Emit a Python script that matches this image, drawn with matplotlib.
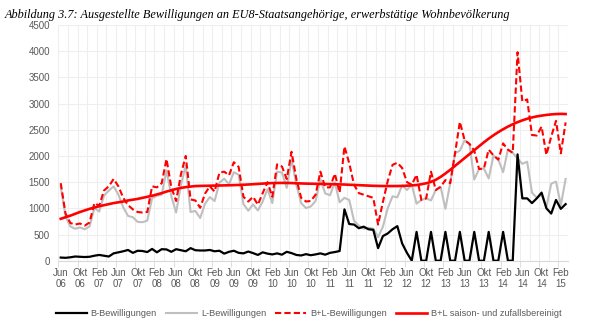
import matplotlib
matplotlib.use("Agg")
import matplotlib.pyplot as plt

# monthly values, Jun 2006 - Mar 2015
b_bew = [60, 55, 65, 80, 75, 70, 75, 95, 110, 95,
         80, 140, 160, 180, 205, 150, 190, 185, 165, 225,
         160, 220, 215, 170, 220, 200, 180, 240, 200, 195,
         195, 205, 180, 190, 135, 170, 190, 150, 140, 175,
         145, 110, 160, 135, 120, 140, 115, 170, 145, 110,
         100, 125, 105, 120, 140, 115, 150, 165, 185, 980,
         700, 690, 620, 650, 600, 590, 240, 470, 520, 600,
         660, 330, 150, 0, 550, 0, 0, 550, 0, 0,
         550, 0, 0, 550, 0, 0, 550, 0, 0, 550,
         0, 0, 550, 0, 0, 2030, 1190, 1190, 1100, 1190,
         1300, 1000, 900, 1160, 990, 1080]
l_bew = [1420, 845, 655, 610, 635, 600, 655, 1005, 940, 1245,
         1340, 1420, 1260, 1020, 855, 830, 740, 735, 765, 1195,
         1240, 1260, 1725, 1230, 920, 1450, 1820, 930, 950, 815,
         1085, 1215, 1140, 1490, 1565, 1460, 1690, 1640, 1080, 955,
         1075, 960, 1130, 1365, 1100, 1700, 1685, 1390, 1935, 1450,
         1100, 1005, 1035, 1140, 1560, 1285, 1250, 1495, 1115, 1200,
         1160, 760, 670, 610, 630, 610, 450, 650, 1000, 1230,
         1210, 1440, 1350, 1450, 1090, 1160, 1190, 1150, 1350, 1410,
         990, 1480, 2050, 2100, 2300, 2230, 1550, 1750, 1760, 1570,
         2010, 1930, 1690, 2120, 2060, 1950, 1850, 1890, 1300, 1200,
         1260, 1020, 1470, 1510, 1060, 1560]
bl_bew = [1480, 900, 720, 690, 710, 670, 730, 1100, 1050, 1340,
          1420, 1560, 1420, 1200, 1060, 980, 930, 920, 930, 1420,
          1400, 1480, 1940, 1400, 1140, 1650, 2000, 1170, 1150, 1010,
          1280, 1420, 1320, 1680, 1700, 1630, 1880, 1790, 1220, 1130,
          1220, 1070, 1290, 1500, 1220, 1840, 1800, 1560, 2080, 1560,
          1200, 1130, 1140, 1260, 1700, 1400, 1400, 1660, 1300, 2180,
          1860, 1450, 1290, 1260, 1230, 1200, 690, 1120, 1520, 1830,
          1870, 1770, 1500, 1450, 1640, 1160, 1190, 1700, 1350, 1410,
          1540, 1480, 2050, 2650, 2300, 2230, 2100, 1750, 1760, 2120,
          2010, 1930, 2240, 2120, 2060, 3980, 3040, 3080, 2400, 2390,
          2560, 2020, 2370, 2670, 2050, 2640]
bl_trend = [800, 830, 860, 895, 930, 960, 990, 1015, 1040, 1060,
            1080, 1100, 1115, 1130, 1150, 1165, 1180, 1200, 1220, 1240,
            1265, 1290, 1320, 1345, 1370, 1390, 1405, 1415, 1425, 1428,
            1430, 1432, 1434, 1436, 1438, 1440, 1443, 1446, 1450, 1455,
            1460, 1466, 1472, 1478, 1482, 1484, 1485, 1485, 1482, 1478,
            1475, 1472, 1470, 1468, 1466, 1464, 1462, 1460, 1457, 1454,
            1450, 1446, 1442, 1438, 1434, 1430, 1428, 1426, 1425, 1425,
            1426, 1428, 1432, 1438, 1445, 1460, 1478, 1505, 1545, 1600,
            1665, 1735, 1810, 1885, 1960, 2035, 2110, 2185, 2260, 2330,
            2395, 2455, 2510, 2560, 2605, 2645, 2680, 2710, 2735, 2755,
            2770, 2783, 2793, 2800, 2803, 2800]
tick_labels = ["Jun\n06", "Okt\n06", "Feb\n07", "Jun\n07", "Okt\n07", "Feb\n08",
               "Jun\n08", "Okt\n08", "Feb\n09", "Jun\n09", "Okt\n09", "Feb\n10",
               "Jun\n10", "Okt\n10", "Feb\n11", "Jun\n11", "Okt\n11", "Feb\n12",
               "Jun\n12", "Okt\n12", "Feb\n13", "Jun\n13", "Okt\n13", "Feb\n14",
               "Jun\n14", "Okt\n14", "Feb\n15"]

plt.rcParams['font.family'] = ['Liberation Sans', 'DejaVu Sans']
txt = '#595959'
n = len(bl_bew)
x = list(range(n))

fig = plt.figure(figsize=(6.05, 3.26), dpi=100)
ax = fig.add_axes([0.0964, 0.2003, 0.8425, 0.723])

# gitter
for k in range(0, n + 1, 2):
    ax.axvline(k - 0.5, color='#EEEEEE', lw=0.8, zorder=0)
for v in range(0, 4501, 500):
    ax.axhline(v, color='#EEEEEE', lw=0.8, zorder=0)

ax.plot(x, b_bew, color='black', lw=1.6, label='B-Bewilligungen', zorder=3)
ax.plot(x, l_bew, color='#BFBFBF', lw=1.5, label='L-Bewilligungen', zorder=2)
ax.plot(x, bl_bew, color='#FF0000', lw=1.5, dashes=(3, 1.5), label='B+L-Bewilligungen', zorder=4)
ax.plot(x, bl_trend, color='#FF0000', lw=1.9, label='B+L saison- und zufallsbereinigt', zorder=5)

ax.set_xlim(-0.5, n - 0.5)
ax.set_ylim(0, 4500)
ax.set_yticks(range(0, 4501, 500))
ax.set_xticks(range(0, n, 4))
ax.set_xticklabels(tick_labels)
ax.set_xticks([k - 0.5 for k in range(0, n + 1, 4)], minor=True)
ax.tick_params(axis='x', which='major', length=0, labelsize=7, labelcolor=txt, pad=5)
ax.tick_params(axis='x', which='minor', length=4, color='#D9D9D9')
ax.tick_params(axis='y', length=0, labelsize=7, labelcolor=txt, pad=6)
for s in ['top', 'right', 'left']:
    ax.spines[s].set_visible(False)
ax.spines['bottom'].set_color('#D9D9D9')

fig.text(0.008, 0.955, "Abbildung 3.7: Ausgestellte Bewilligungen an EU8-Staatsangehörige, erwerbstätige Wohnbevölkerung",
         family='Liberation Serif', style='italic', fontsize=8.8, ha='left', va='center')

leg = fig.legend(loc='lower center', bbox_to_anchor=(0.51, 0.0), ncol=4, frameon=False,
                 fontsize=6.6, handlelength=3.4, columnspacing=1.0, handletextpad=0.4)
for t in leg.get_texts():
    t.set_color(txt)

fig.savefig('out.png', dpi=100)
